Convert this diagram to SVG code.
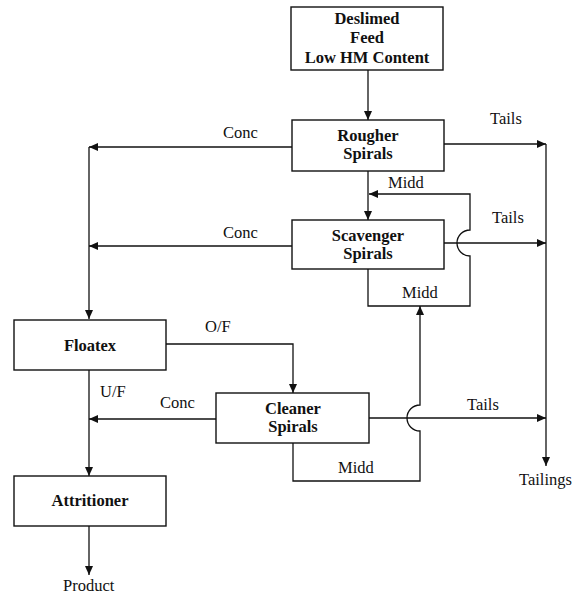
<svg xmlns="http://www.w3.org/2000/svg" width="573" height="594" viewBox="0 0 573 594">
<style>
.box{fill:#fff;stroke:#111;stroke-width:1.4}
.ln{fill:none;stroke:#111;stroke-width:1.3}
.nt{font-family:"Liberation Serif","Times New Roman",serif;font-weight:bold;font-size:16.5px;fill:#111;text-anchor:middle}
.lb{font-family:"Liberation Serif","Times New Roman",serif;font-size:16.5px;fill:#111}
</style>
<defs>
<marker id="ah" markerUnits="userSpaceOnUse" markerWidth="10" markerHeight="10" refX="9" refY="4" orient="auto">
<path d="M0,0 L9,4 L0,8 Z" fill="#111"/>
</marker>
</defs>
<rect width="573" height="594" fill="#fff"/>
<g id="connectors">
<path class="ln" d="M368,70 V120" marker-end="url(#ah)"/>
<path class="ln" d="M444,144 H546" marker-end="url(#ah)"/>
<path class="ln" d="M546,144 V466" marker-end="url(#ah)"/>
<path class="ln" d="M292,147 H89" marker-end="url(#ah)"/>
<path class="ln" d="M89,147 V319" marker-end="url(#ah)"/>
<path class="ln" d="M292,246 H89" marker-end="url(#ah)"/>
<path class="ln" d="M368,171 V220" marker-end="url(#ah)"/>
<path class="ln" d="M368,269 V306 H470 V256 A13,13 0 0 1 470,230 V194 H369" marker-end="url(#ah)"/>
<path class="ln" d="M444,243 H546" marker-end="url(#ah)"/>
<path class="ln" d="M166,344 H293 V393" marker-end="url(#ah)"/>
<path class="ln" d="M216,419 H89" marker-end="url(#ah)"/>
<path class="ln" d="M89,370 V476" marker-end="url(#ah)"/>
<path class="ln" d="M369,418 H546" marker-end="url(#ah)"/>
<path class="ln" d="M293,443 V481 H420 V431 A13,13 0 0 1 420,405 V306" marker-end="url(#ah)"/>
<path class="ln" d="M89,526 V575" marker-end="url(#ah)"/>
</g>
<g id="feed">
<rect class="box" x="291" y="7" width="152" height="63"/>
<text class="nt" x="367" y="24">Deslimed</text>
<text class="nt" x="367" y="43">Feed</text>
<text class="nt" x="367" y="63">Low HM Content</text>
</g>
<g id="rougher">
<rect class="box" x="292" y="120" width="152" height="51"/>
<text class="nt" x="368" y="141">Rougher</text>
<text class="nt" x="368" y="159">Spirals</text>
</g>
<g id="scavenger">
<rect class="box" x="292" y="220" width="152" height="49"/>
<text class="nt" x="368" y="241">Scavenger</text>
<text class="nt" x="368" y="259">Spirals</text>
</g>
<g id="floatex">
<rect class="box" x="14" y="320" width="152" height="50"/>
<text class="nt" x="90" y="351">Floatex</text>
</g>
<g id="cleaner">
<rect class="box" x="216" y="393" width="153" height="50"/>
<text class="nt" x="293" y="414">Cleaner</text>
<text class="nt" x="293" y="432">Spirals</text>
</g>
<g id="attritioner">
<rect class="box" x="14" y="476" width="152" height="50"/>
<text class="nt" x="90" y="506">Attritioner</text>
</g>
<g id="labels">
<text class="lb" x="490" y="124">Tails</text>
<text class="lb" x="223" y="138">Conc</text>
<text class="lb" x="388" y="188">Midd</text>
<text class="lb" x="492" y="223">Tails</text>
<text class="lb" x="223" y="238">Conc</text>
<text class="lb" x="402" y="298">Midd</text>
<text class="lb" x="205" y="332">O/F</text>
<text class="lb" x="100" y="397">U/F</text>
<text class="lb" x="160" y="408">Conc</text>
<text class="lb" x="467" y="410">Tails</text>
<text class="lb" x="338" y="473">Midd</text>
<text class="lb" x="519" y="485">Tailings</text>
<text class="lb" x="63" y="591">Product</text>
</g>
</svg>
